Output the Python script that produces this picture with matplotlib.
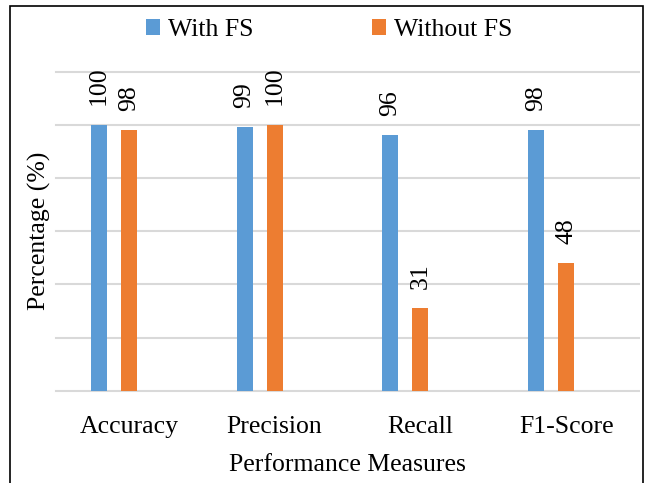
import matplotlib.pyplot as plt
import numpy as np
from matplotlib.patches import Rectangle

categories = ['Accuracy', 'Precision', 'Recall', 'F1-Score']
with_fs = [100, 99, 96, 98]
without_fs = [98, 100, 31, 48]

plt.rcParams['font.family'] = 'Liberation Serif'
plt.rcParams['font.size'] = 18.5

fig = plt.figure(figsize=(6.47, 4.83), dpi=100)
ax = fig.add_axes([56/647, 1 - 390.7/483, 583/647, (390.7 - 71.5)/483])

x = np.arange(len(categories))
w = 0.11
b1 = ax.bar(x - 0.206, with_fs, w, color='#5B9BD5', label='With FS', zorder=3)
b2 = ax.bar(x, without_fs, w, color='#ED7D31', label='Without FS', zorder=3)

for bars in (b1, b2):
    for r in bars:
        ax.annotate(f'{r.get_height():g}', (r.get_x() + r.get_width()/2, r.get_height()),
                    xytext=(0, 14), textcoords='offset points',
                    rotation=90, ha='center', va='bottom', annotation_clip=False)

ax.set_xlim(-0.5, 3.5)
ax.set_ylim(0, 120)
ax.set_yticks(np.arange(0, 121, 20))
ax.set_yticklabels([])
ax.set_xticks(x)
ax.set_xticklabels(categories)
ax.tick_params(length=0)
ax.tick_params(axis='x', pad=18.5)
ax.grid(axis='y', color='#d9d9d9', lw=1.5, zorder=0, clip_on=False)
for s in ax.spines.values():
    s.set_visible(False)

ax.set_xlabel('Performance Measures', labelpad=11)
ax.set_ylabel('Percentage (%)', labelpad=0)

fig.legend(loc='center', bbox_to_anchor=(329/647, 1 - 30/483), ncol=2, frameon=False,
           handlelength=0.55, handleheight=0.55, handletextpad=0.3, columnspacing=4.6)

fig.patches.append(Rectangle((10/647, -0.05), 633/647, 1.05 - 6/483, transform=fig.transFigure,
                             fill=False, ec='black', lw=1.2))

plt.savefig('out.png', dpi=100)
